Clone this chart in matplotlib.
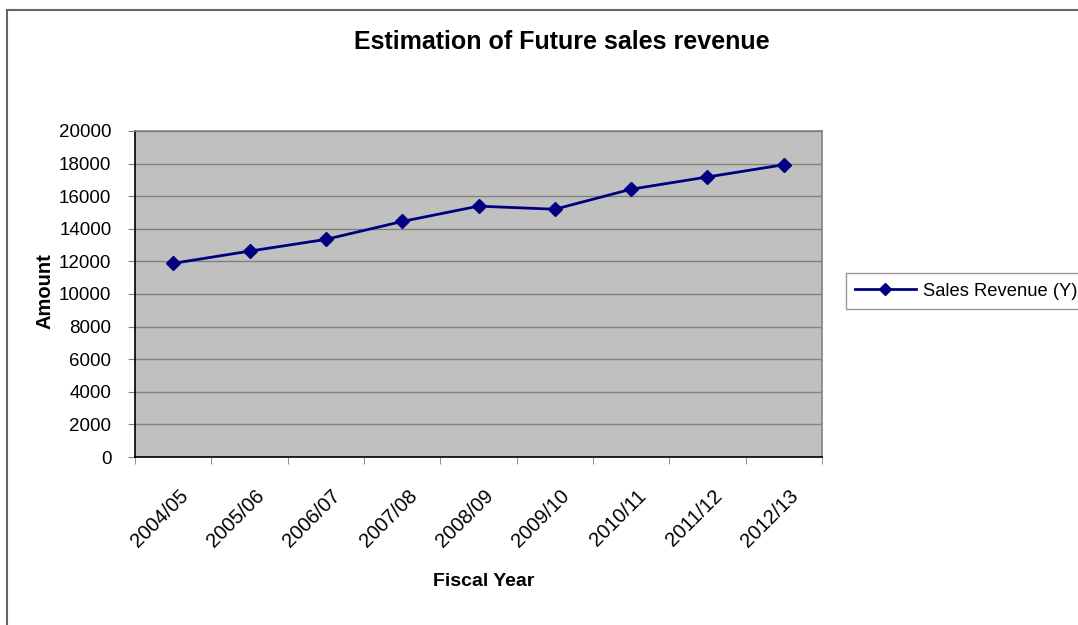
import matplotlib
matplotlib.use("Agg")
import matplotlib.pyplot as plt
import matplotlib.transforms as mtransforms
from matplotlib.lines import Line2D

plt.rcParams['font.family'] = ['Liberation Sans', 'DejaVu Sans']

# data
years = ["2004/05", "2005/06", "2006/07", "2007/08", "2008/09",
         "2009/10", "2010/11", "2011/12", "2012/13"]
revenue = [11880, 12630, 13350, 14450, 15390, 15200, 16430, 17180, 17930]
yticks = [0, 2000, 4000, 6000, 8000, 10000, 12000, 14000, 16000, 18000, 20000]

fig = plt.figure(figsize=(10.78, 6.25), dpi=100)
fig.patch.set_facecolor("white")

# outer chart frame (only left and top visible in the reference)
fig.add_artist(Line2D([7/1078, 7/1078], [0, 1 - 10/625], transform=fig.transFigure,
                      color="#666666", lw=1.5))
fig.add_artist(Line2D([7/1078, 1], [1 - 10/625, 1 - 10/625], transform=fig.transFigure,
                      color="#666666", lw=1.5))

ax = fig.add_axes([135/1078, 168/625, 687/1078, 326/625])
ax.set_facecolor("#c0c0c0")

x = list(range(len(years)))
line, = ax.plot(x, revenue, color="#000080", lw=2, marker="D", markersize=7.5,
                label="Sales Revenue (Y)")

ax.set_xlim(-0.5, len(years) - 0.5)
ax.set_ylim(0, 20000)
ax.set_yticks(yticks)
ax.set_yticklabels([str(v) for v in yticks], fontsize=13.5)
ax.yaxis.grid(True, color="#808080", lw=1)
ax.set_axisbelow(True)

ax.set_xticks(x)
ax.set_xticklabels(years, rotation=45, ha="right", rotation_mode="anchor", fontsize=14.5)
ax.tick_params(axis="x", length=0, pad=21)
shift = mtransforms.ScaledTranslation(5/100, 0, fig.dpi_scale_trans)
for lab in ax.get_xticklabels():
    lab.set_transform(lab.get_transform() + shift)
ax.set_xticks([i - 0.5 for i in range(len(years) + 1)], minor=True)
ax.tick_params(axis="x", which="minor", length=5, color="#808080")
ax.tick_params(axis="y", length=5, color="#808080", pad=12)

ax.spines["left"].set_color("black")
ax.spines["bottom"].set_color("black")
ax.spines["top"].set_color("#808080")
ax.spines["right"].set_color("#808080")
for s in ax.spines.values():
    s.set_linewidth(1.2)

fig.text(562/1078, 1 - 42/625, "Estimation of Future sales revenue",
         ha="center", va="center", fontsize=18, fontweight="bold")
fig.text(45/1078, 1 - 291/625, "Amount", rotation=90, ha="center", va="center",
         fontsize=14.5, fontweight="bold")
fig.text(484/1078, 1 - 582/625, "Fiscal Year", ha="center", va="center",
         fontsize=14, fontweight="bold")

leg = fig.legend(handles=[line], loc="center left",
                 bbox_to_anchor=(846/1078, 1 - 291/625), fontsize=13.2,
                 frameon=True, fancybox=False, handlelength=3.3, handletextpad=0.4,
                 borderpad=0.5, borderaxespad=0, markerscale=0.8)
leg.get_frame().set_edgecolor("#808080")
leg.get_frame().set_linewidth(1)

fig.savefig("out.png", dpi=100)
